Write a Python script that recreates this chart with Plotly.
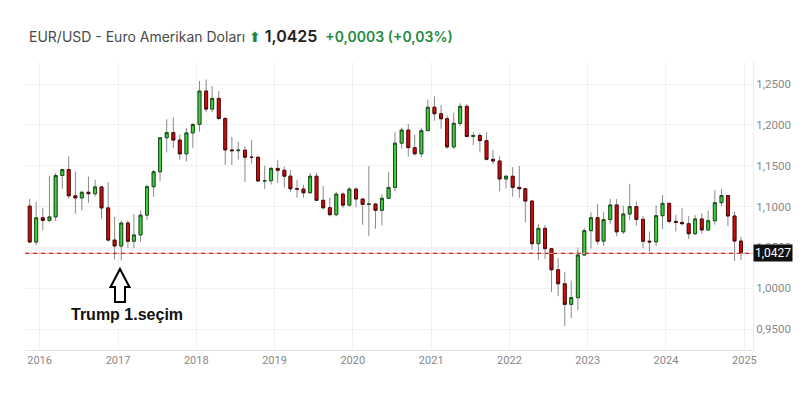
import pandas as pd
import plotly.graph_objects as go

# Monthly EUR/USD candles, Nov 2015 .. Dec 2024
months = pd.date_range("2015-11-01", "2024-12-01", freq="MS")
dates = [d + pd.Timedelta(days=15) for d in months]

opens = [1.1005, 1.0565, 1.0862, 1.0830, 1.0873, 1.1380, 1.1453, 1.1131, 1.1105, 1.1175, 1.1157, 1.1240,
         1.0983, 1.0589, 1.0517, 1.0798, 1.0575, 1.0652, 1.0895, 1.1243, 1.1426, 1.1842, 1.1905, 1.1814,
         1.1645, 1.1902, 1.2005, 1.2414, 1.2193, 1.2324, 1.2078, 1.1693, 1.1684, 1.1690, 1.1604, 1.1603,
         1.1313, 1.1316, 1.1467, 1.1444, 1.1372, 1.1217, 1.1214, 1.1168, 1.1371, 1.1076, 1.0985, 1.0900,
         1.1152, 1.1017, 1.1213, 1.1092, 1.1027, 1.1031, 1.0954, 1.1101, 1.1234, 1.1776, 1.1936, 1.1721,
         1.1646, 1.1929, 1.2216, 1.2136, 1.2075, 1.1730, 1.2019, 1.2227, 1.1858, 1.1870, 1.1807, 1.1578,
         1.1558, 1.1337, 1.1371, 1.1235, 1.1218, 1.1067, 1.0545, 1.0733, 1.0484, 1.0225, 1.0054, 0.9802,
         0.9884, 1.0406, 1.0705, 1.0863, 1.0576, 1.0840, 1.1019, 1.0690, 1.0909, 1.0999, 1.0843, 1.0575,
         1.0567, 1.0888, 1.1039, 1.0818, 1.0805, 1.0790, 1.0667, 1.0848, 1.0713, 1.0826, 1.1047, 1.1135,
         1.0884, 1.0577]
highs = [1.1095, 1.1060, 1.0986, 1.1376, 1.1410, 1.1464, 1.1616, 1.1428, 1.1186, 1.1366, 1.1327, 1.1255,
         1.1299, 1.0874, 1.0830, 1.0829, 1.0906, 1.0951, 1.1268, 1.1446, 1.1847, 1.2070, 1.2092, 1.1880,
         1.1961, 1.2023, 1.2537, 1.2556, 1.2476, 1.2414, 1.2098, 1.1852, 1.1791, 1.1734, 1.1815, 1.1622,
         1.1500, 1.1485, 1.1570, 1.1489, 1.1448, 1.1324, 1.1265, 1.1412, 1.1412, 1.1250, 1.1109, 1.1179,
         1.1175, 1.1239, 1.1239, 1.1097, 1.1495, 1.1038, 1.1147, 1.1422, 1.1908, 1.1966, 1.2011, 1.1881,
         1.1965, 1.2310, 1.2349, 1.2243, 1.2114, 1.2150, 1.2266, 1.2254, 1.1909, 1.1900, 1.1909, 1.1692,
         1.1616, 1.1386, 1.1483, 1.1495, 1.1234, 1.1076, 1.0787, 1.0774, 1.0486, 1.0369, 1.0198, 1.0094,
         1.0497, 1.0736, 1.0929, 1.1033, 1.0930, 1.1095, 1.1092, 1.1012, 1.1276, 1.1065, 1.0882, 1.0695,
         1.1017, 1.1140, 1.1046, 1.0897, 1.0981, 1.0885, 1.0895, 1.0916, 1.0948, 1.1202, 1.1214, 1.1144,
         1.0937, 1.0630]
lows = [1.0562, 1.0523, 1.0711, 1.0808, 1.0822, 1.1217, 1.1097, 1.0912, 1.0952, 1.1046, 1.1122, 1.0852,
        1.0569, 1.0352, 1.0340, 1.0494, 1.0494, 1.0569, 1.0839, 1.1118, 1.1312, 1.1662, 1.1717, 1.1575,
        1.1554, 1.1717, 1.1916, 1.2154, 1.2155, 1.2055, 1.1510, 1.1508, 1.1577, 1.1301, 1.1526, 1.1302,
        1.1216, 1.1269, 1.1289, 1.1234, 1.1176, 1.1110, 1.1107, 1.1181, 1.1101, 1.0964, 1.0879, 1.0880,
        1.0981, 1.1000, 1.0992, 1.0777, 1.0636, 1.0727, 1.0767, 1.1097, 1.1185, 1.1710, 1.1612, 1.1622,
        1.1603, 1.1926, 1.2052, 1.1952, 1.1704, 1.1704, 1.1986, 1.1847, 1.1752, 1.1664, 1.1563, 1.1524,
        1.1186, 1.1222, 1.1121, 1.1106, 1.0806, 1.0471, 1.0349, 1.0359, 0.9952, 0.9901, 0.9536, 0.9632,
        0.9730, 1.0393, 1.0483, 1.0533, 1.0516, 1.0788, 1.0635, 1.0662, 1.0834, 1.0766, 1.0488, 1.0448,
        1.0516, 1.0723, 1.0795, 1.0695, 1.0768, 1.0601, 1.0650, 1.0668, 1.0709, 1.0778, 1.1002, 1.0761,
        1.0333, 1.0343]
closes = opens[1:] + [1.0427]

y_ticks = [0.95, 1.00, 1.05, 1.10, 1.15, 1.20, 1.25]
title_name = "EUR/USD - Euro Amerikan Doları"
title_price = "1,0425"
title_change = "+0,0003 (+0,03%)"
event_label = "Trump 1.seçim"

# ---- layout geometry (page pixels); the page body has an 8px margin ----
OFF = 8
W, H = 810 - 2 * OFF, 396 - 2 * OFF
L, R, T, B = 25, 753, 62, 350  # plot area in page pixels


def px(x):
    return (x - L) / (R - L)


def py(y):
    return (B - y) / (B - T)


GREEN, GREEN_LINE = "#3fd23f", "#1d4d1d"
RED, RED_LINE = "#d10a0a", "#4d0a0a"

fig = go.Figure()
# wicks (grey)
fig.add_trace(go.Candlestick(
    x=dates, open=opens, high=highs, low=lows, close=closes,
    increasing=dict(line=dict(color="#8a8a8a", width=1), fillcolor=GREEN),
    decreasing=dict(line=dict(color="#8a8a8a", width=1), fillcolor=RED),
    hoverinfo="skip", showlegend=False))
# bodies with dark outlines
body_hi = [max(o, c) for o, c in zip(opens, closes)]
body_lo = [min(o, c) for o, c in zip(opens, closes)]
fig.add_trace(go.Candlestick(
    x=dates, open=opens, high=body_hi, low=body_lo, close=closes,
    increasing=dict(line=dict(color=GREEN_LINE, width=1), fillcolor=GREEN),
    decreasing=dict(line=dict(color=RED_LINE, width=1), fillcolor=RED),
    hoverinfo="skip", showlegend=False))

last = closes[-1]
# current price line
fig.add_shape(type="line", xref="paper", x0=0, x1=1, yref="y", y0=last, y1=last,
              line=dict(color="#eba3a3", width=1), layer="above")
fig.add_shape(type="line", xref="paper", x0=0, x1=1, yref="y", y0=last, y1=last,
              line=dict(color="#b83232", width=1.2, dash="4px,4px"), layer="above")
fig.add_annotation(xref="paper", x=1, yref="y", y=last, xanchor="left", yanchor="middle",
                   text=f"{last:.4f}".replace(".", ","), showarrow=False,
                   font=dict(family="Roboto, Arial", size=12, color="white"),
                   bgcolor="#111111", borderpad=1, xshift=0)

# hollow up arrow
pts = [(120, 269), (129.5, 287), (125, 287), (125, 302), (115, 302), (115, 287), (110.5, 287)]
path = "M " + " L ".join(f"{px(a):.5f},{py(b):.5f}" for a, b in pts) + " Z"
fig.add_shape(type="path", xref="paper", yref="paper", path=path,
              line=dict(color="black", width=2), fillcolor="white", layer="above")
fig.add_annotation(xref="paper", yref="paper", x=px(127), y=py(314), text=f"<b>{event_label}</b>",
                   showarrow=False, xanchor="center", yanchor="middle",
                   font=dict(family="Liberation Sans, Arial", size=16, color="#111111"))

# header
fig.add_annotation(xref="paper", yref="paper", x=px(27), y=py(36), xanchor="left", yanchor="middle",
                   showarrow=False,
                   text=(f"<span style='color:#4a4a4a'>{title_name}</span> "
                         f"<span style='color:#1f8a3f;font-family:DejaVu Sans;font-size:14px;font-weight:bold'>⬆</span> "
                         f"<span style='font-size:16px;color:#222;font-weight:600'>{title_price}</span>  "
                         f"<span style='color:#1f8a3f;font-weight:600'>{title_change}</span>"),
                   font=dict(family="Inter, Roboto, Arial", size=14, color="#444"))

fig.update_layout(
    width=W, height=H, margin=dict(l=L - OFF, r=(810 - OFF) - R, t=T - OFF, b=H - (B - OFF)),
    paper_bgcolor="white", plot_bgcolor="white", separators=",.",
    font=dict(family="Roboto, Arial", color="#777"),
    xaxis=dict(type="date", range=["2015-10-25", "2025-02-10"], rangeslider=dict(visible=False),
               dtick="M12", tick0="2016-01-01", tickformat="%Y", showgrid=True, gridcolor="#f1f1f1",
               showline=True, linecolor="#e2e2e2", ticks="", tickfont=dict(size=11, color="#888"),
               zeroline=False, fixedrange=True),
    yaxis=dict(side="right", range=[0.9243, 1.277], tickvals=y_ticks, tickformat=".4f",
               showgrid=True, gridcolor="#f1f1f1", showline=True, linecolor="#ececec",
               ticks="", tickfont=dict(size=11.5, color="#888"), zeroline=False, fixedrange=True),
    showlegend=False,
)

fig.write_html("out.html")
